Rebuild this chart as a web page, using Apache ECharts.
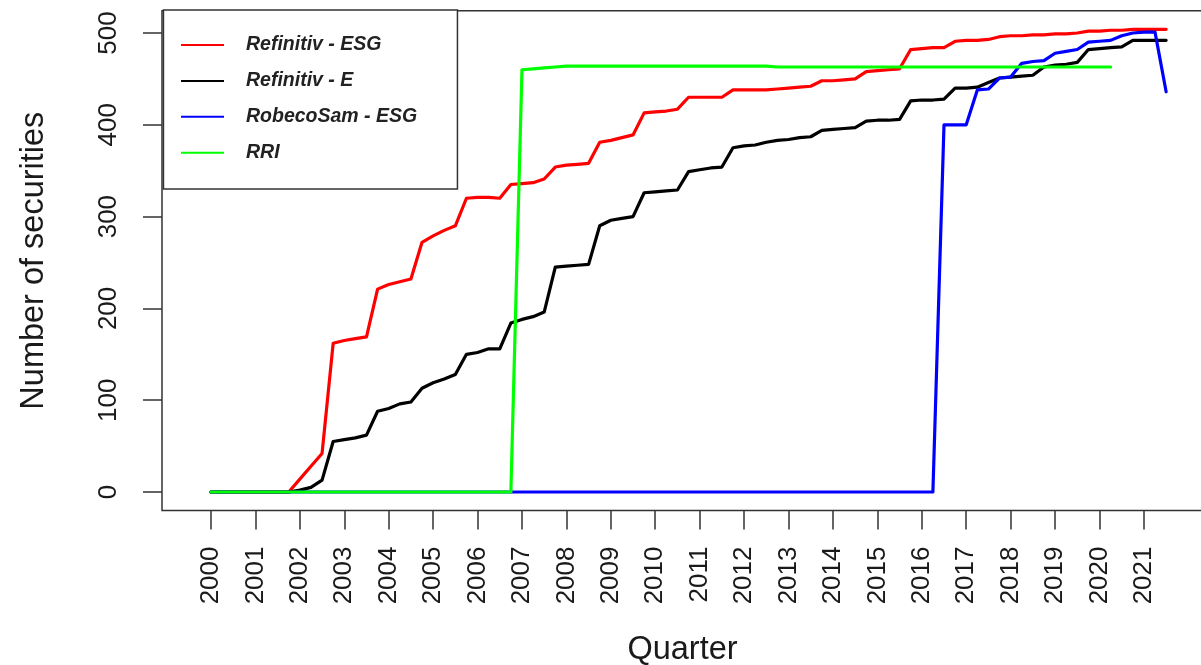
<!DOCTYPE html>
<html>
<head>
<meta charset="utf-8">
<title>Number of securities per quarter</title>
<script src="https://cdn.jsdelivr.net/npm/echarts@6/dist/echarts.min.js"></script>
<style>
  html, body { margin: 0; padding: 0; background: #ffffff; }
  #chart { width: 1201px; height: 665px; }
</style>
</head>
<body>
<div id="chart"></div>
<script>
// Quarterly observation dates, 2000 Q1 .. 2021 Q3, as decimal years
const quarters = Array.from({ length: 87 }, (_, i) => 2000 + i / 4);

const seriesNames = ['Refinitiv - ESG', 'Refinitiv - E', 'RobecoSam - ESG', 'RRI'];

// Number of covered securities per quarter
const refinitivESG = [
  0, 0, 0, 0, 0, 0, 0, 0, 14, 28, 42,
  162, 165, 167, 169,
  221, 226, 229, 232,
  272, 279, 285, 290,
  320, 321, 321, 320,
  335, 336, 337, 341,
  354, 356, 357, 358,
  381, 383, 386, 389,
  413, 414, 415, 417,
  430, 430, 430, 430,
  438, 438, 438, 438,
  439, 440, 441, 442,
  448, 448, 449, 450,
  458, 459, 460, 461,
  482, 483, 484, 484,
  491, 492, 492, 493,
  496, 497, 497, 498,
  498, 499, 499, 500,
  502, 502, 503, 503,
  504, 504, 504, 504
];

const refinitivE = [
  0, 0, 0, 0, 0, 0, 0, 0, 2, 5, 13,
  55, 57, 59, 62,
  88, 91, 96, 98,
  113, 119, 123, 128,
  150, 152, 156, 156,
  184, 188, 191, 196,
  245, 246, 247, 248,
  290, 296, 298, 300,
  326, 327, 328, 329,
  349, 351, 353, 354,
  375, 377, 378, 381,
  383, 384, 386, 387,
  394, 395, 396, 397,
  404, 405, 405, 406,
  426, 427, 427, 428,
  440, 440, 441, 446,
  451, 452, 453, 454,
  463, 465, 466, 468,
  482, 483, 484, 485,
  492, 492, 492, 492
];

const robecoSamESG = [
  0, 0, 0, 0, 0, 0, 0, 0, 0, 0, 0,
  0, 0, 0, 0, 0, 0, 0, 0, 0, 0, 0,
  0, 0, 0, 0, 0, 0, 0, 0, 0, 0, 0,
  0, 0, 0, 0, 0, 0, 0, 0, 0, 0, 0,
  0, 0, 0, 0, 0, 0, 0, 0, 0, 0, 0,
  0, 0, 0, 0, 0, 0, 0, 0, 0, 0, 0,
  400, 400, 400,
  438, 439,
  451, 452,
  467, 469, 470,
  478, 480, 482,
  490, 491, 492,
  497, 500, 501, 501,
  436
];

const rri = [
  0, 0, 0, 0, 0, 0, 0, 0, 0, 0, 0,
  0, 0, 0, 0, 0, 0, 0, 0, 0, 0, 0,
  0, 0, 0, 0, 0, 0,
  460, 461, 462, 463,
  464, 464, 464, 464, 464, 464, 464, 464, 464, 464,
  464, 464, 464, 464, 464, 464, 464, 464, 464,
  463, 463, 463, 463,
  463, 463, 463, 463, 463, 463, 463, 463, 463, 463,
  463, 463, 463, 463, 463, 463, 463, 463, 463, 463,
  463, 463, 463, 463, 463, 463, 463
];

const yearTicks = [2000, 2001, 2002, 2003, 2004, 2005, 2006, 2007, 2008, 2009, 2010,
  2011, 2012, 2013, 2014, 2015, 2016, 2017, 2018, 2019, 2020, 2021];
const countTicks = [0, 100, 200, 300, 400, 500];

const lineColors = ['#ff0000', '#000000', '#0000ff', '#00ff00'];
const seriesValues = [refinitivESG, refinitivE, robecoSamESG, rri];

const FONT = '"Liberation Sans", Arial, Helvetica, sans-serif';

const chart = echarts.init(document.getElementById('chart'), null, { renderer: 'canvas' });

const series = seriesValues.map((vals, i) => ({
  name: seriesNames[i],
  type: 'line',
  data: vals.map((v, k) => [quarters[k], v]),
  showSymbol: false,
  symbol: 'none',
  color: lineColors[i],
  lineStyle: { color: lineColors[i], width: 3.2, cap: 'round', join: 'round' },
  emphasis: { disabled: true },
  z: 2 + i
}));

chart.setOption({
  animation: false,
  backgroundColor: '#ffffff',
  textStyle: { fontFamily: FONT },
  grid: {
    left: 162,
    right: -2,
    top: 10.8,
    bottom: 154.5,
    outerBoundsMode: 'none',
    containLabel: false,
    show: true,
    borderColor: '#333333',
    borderWidth: 1.5,
    backgroundColor: 'transparent'
  },
  xAxis: {
    type: 'value',
    min: 1998.897,
    max: 2022.33,
    name: 'Quarter',
    nameLocation: 'middle',
    nameGap: 123,
    nameTextStyle: { fontFamily: FONT, fontSize: 32.5, color: '#1a1a1a' },
    axisLine: { show: false, onZero: false },
    splitLine: { show: false },
    axisTick: {
      show: true,
      length: 19,
      customValues: yearTicks,
      lineStyle: { color: '#333333', width: 1.5 }
    },
    axisLabel: {
      customValues: yearTicks,
      rotate: 90,
      margin: 36,
      fontFamily: FONT,
      fontSize: 26,
      color: '#1a1a1a',
      formatter: v => String(Math.round(v))
    }
  },
  yAxis: {
    type: 'value',
    min: -20.15,
    max: 524.2,
    name: 'Number of securities',
    nameLocation: 'middle',
    nameRotate: 90,
    nameGap: 111,
    nameTextStyle: { fontFamily: FONT, fontSize: 32.5, color: '#1a1a1a' },
    axisLine: { show: false, onZero: false },
    splitLine: { show: false },
    axisTick: {
      show: true,
      length: 19,
      customValues: countTicks,
      lineStyle: { color: '#333333', width: 1.5 }
    },
    axisLabel: {
      customValues: countTicks,
      rotate: 90,
      margin: 40,
      fontFamily: FONT,
      fontSize: 26,
      color: '#1a1a1a',
      formatter: v => String(Math.round(v))
    }
  },
  legend: {
    orient: 'vertical',
    left: 181,
    top: 33,
    padding: 0,
    itemGap: 11.9,
    itemWidth: 43,
    itemHeight: 2,
    icon: 'rect',
    selectedMode: false,
    data: seriesNames,
    textStyle: {
      fontFamily: FONT,
      fontSize: 19.5,
      fontStyle: 'italic',
      fontWeight: 'bold',
      color: '#222222',
      lineHeight: 24,
      padding: [0, 0, 0, 17]
    }
  },
  graphic: [{
    type: 'rect',
    left: 162.7,
    top: 9.3,
    shape: { width: 294, height: 179 },
    style: { fill: '#ffffff', stroke: '#333333', lineWidth: 1.5 },
    z: 1
  }],
  series: series
});
</script>
</body>
</html>
